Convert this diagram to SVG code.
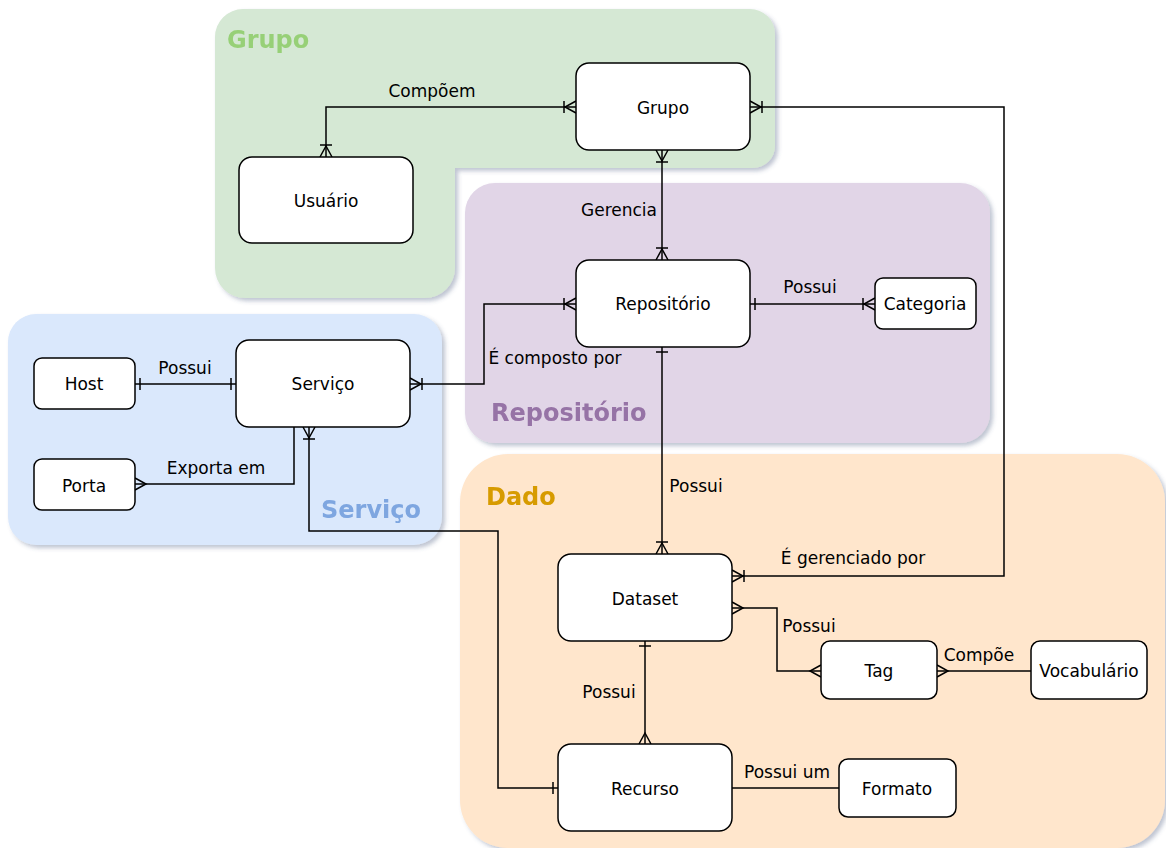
<svg xmlns="http://www.w3.org/2000/svg" width="1166" height="848" viewBox="0 0 1166 848">
<style>
.node{fill:#fff;stroke:#000;stroke-width:1.5}
.lbl{font-family:"DejaVu Sans",Verdana,sans-serif;font-size:17px;fill:#000;text-anchor:middle}
.ttl{font-family:"DejaVu Sans",Verdana,sans-serif;font-size:24px;font-weight:bold}
.edge{fill:none;stroke:#000;stroke-width:1.5}
.mk{fill:none;stroke:#000;stroke-width:1.5}
</style>
<defs>
<filter id="sh" x="-5%" y="-5%" width="115%" height="115%">
<feDropShadow dx="3" dy="3" stdDeviation="2" flood-color="#4a5a80" flood-opacity="0.35"/>
</filter>
<marker id="one" viewBox="-14 -8 16 16" refX="0" refY="0" markerWidth="16" markerHeight="16" markerUnits="userSpaceOnUse" orient="auto-start-reverse" overflow="visible">
<path class="mk" d="M-5,-6 L-5,6"/>
</marker>
<marker id="oneMany" viewBox="-14 -8 16 16" refX="0" refY="0" markerWidth="16" markerHeight="16" markerUnits="userSpaceOnUse" orient="auto-start-reverse" overflow="visible">
<path class="mk" d="M-12,-6 L-12,6 M0,-6 L-11,0 L0,6"/>
</marker>
<marker id="many" viewBox="-14 -8 16 16" refX="0" refY="0" markerWidth="16" markerHeight="16" markerUnits="userSpaceOnUse" orient="auto-start-reverse" overflow="visible">
<path class="mk" d="M0,-6 L-11,0 L0,6"/>
</marker>
</defs>

<g id="regions">
<g id="region-grupo" filter="url(#sh)">
<path fill="#d5e8d4" d="M243,9 H750 A25,25 0 0 1 775,34 V146 A22,22 0 0 1 753,168 H455 V268 A30,30 0 0 1 425,298 H245 A30,30 0 0 1 215,268 V37 A28,28 0 0 1 243,9 Z"/>
<text class="ttl" x="227" y="48" fill="#97d077">Grupo</text>
</g>
<g id="region-repositorio" filter="url(#sh)">
<rect x="465" y="183" width="525" height="260" rx="30" fill="#e1d5e7"/>
<text class="ttl" x="491" y="421" fill="#9673a6">Repositório</text>
</g>
<g id="region-servico" filter="url(#sh)">
<rect x="8" y="314" width="434" height="231" rx="28" fill="#dae8fc"/>
<text class="ttl" x="321" y="518" fill="#7ea6e0">Serviço</text>
</g>
<g id="region-dado" filter="url(#sh)">
<rect x="460" y="454" width="705" height="394" rx="48" fill="#ffe6cc"/>
<text class="ttl" x="486" y="505" fill="#d79b00">Dado</text>
</g>
</g>

<g id="connectors">
<path class="edge" d="M326,157 V107 H576" marker-start="url(#oneMany)" marker-end="url(#oneMany)"/>
<path class="edge" d="M662,150 V260" marker-start="url(#oneMany)" marker-end="url(#oneMany)"/>
<path class="edge" d="M750,107 H1004 V576 H732" marker-start="url(#oneMany)" marker-end="url(#oneMany)"/>
<path class="edge" d="M750,304 H875" marker-start="url(#one)" marker-end="url(#oneMany)"/>
<path class="edge" d="M576,304 H484 V384 H410" marker-start="url(#oneMany)" marker-end="url(#oneMany)"/>
<path class="edge" d="M662,347 V554" marker-start="url(#one)" marker-end="url(#oneMany)"/>
<path class="edge" d="M135,384 H236" marker-start="url(#one)" marker-end="url(#one)"/>
<path class="edge" d="M294,427 V484 H135" marker-end="url(#many)"/>
<path class="edge" d="M309,427 V531 H498 V788 H558" marker-start="url(#oneMany)" marker-end="url(#one)"/>
<path class="edge" d="M732,608 H777 V671 H821" marker-start="url(#many)" marker-end="url(#many)"/>
<path class="edge" d="M937,671 H1031" marker-start="url(#many)"/>
<path class="edge" d="M645,641 V744" marker-start="url(#one)" marker-end="url(#many)"/>
<path class="edge" d="M732,788 H839"/>
<text class="lbl" x="432" y="97">Compõem</text>
<text class="lbl" x="619" y="216">Gerencia</text>
<text class="lbl" x="853" y="564">É gerenciado por</text>
<text class="lbl" x="810" y="293">Possui</text>
<text class="lbl" x="555" y="364">É composto por</text>
<text class="lbl" x="696" y="492">Possui</text>
<text class="lbl" x="185" y="374">Possui</text>
<text class="lbl" x="216" y="474">Exporta em</text>
<text class="lbl" x="809" y="632">Possui</text>
<text class="lbl" x="979" y="661">Compõe</text>
<text class="lbl" x="609" y="698">Possui</text>
<text class="lbl" x="787" y="778">Possui um</text>
</g>

<g id="node-grupo"><rect class="node" x="576" y="63" width="174" height="87" rx="13"/><text class="lbl" x="663" y="114">Grupo</text></g>
<g id="node-usuario"><rect class="node" x="239" y="157" width="174" height="86" rx="13"/><text class="lbl" x="326" y="207">Usuário</text></g>
<g id="node-repositorio"><rect class="node" x="576" y="260" width="174" height="87" rx="13"/><text class="lbl" x="663" y="310">Repositório</text></g>
<g id="node-categoria"><rect class="node" x="875" y="278" width="101" height="51" rx="8"/><text class="lbl" x="925" y="310">Categoria</text></g>
<g id="node-host"><rect class="node" x="34" y="358" width="101" height="51" rx="8"/><text class="lbl" x="84" y="390">Host</text></g>
<g id="node-servico"><rect class="node" x="236" y="340" width="174" height="87" rx="13"/><text class="lbl" x="323" y="390">Serviço</text></g>
<g id="node-porta"><rect class="node" x="34" y="459" width="101" height="51" rx="8"/><text class="lbl" x="84" y="492">Porta</text></g>
<g id="node-dataset"><rect class="node" x="558" y="554" width="174" height="87" rx="13"/><text class="lbl" x="645" y="605">Dataset</text></g>
<g id="node-tag"><rect class="node" x="821" y="641" width="116" height="58" rx="9"/><text class="lbl" x="879" y="677">Tag</text></g>
<g id="node-vocabulario"><rect class="node" x="1031" y="641" width="116" height="58" rx="9"/><text class="lbl" x="1089" y="677">Vocabulário</text></g>
<g id="node-recurso"><rect class="node" x="558" y="744" width="174" height="87" rx="13"/><text class="lbl" x="645" y="795">Recurso</text></g>
<g id="node-formato"><rect class="node" x="839" y="759" width="117" height="58" rx="9"/><text class="lbl" x="897" y="795">Formato</text></g>
</svg>
